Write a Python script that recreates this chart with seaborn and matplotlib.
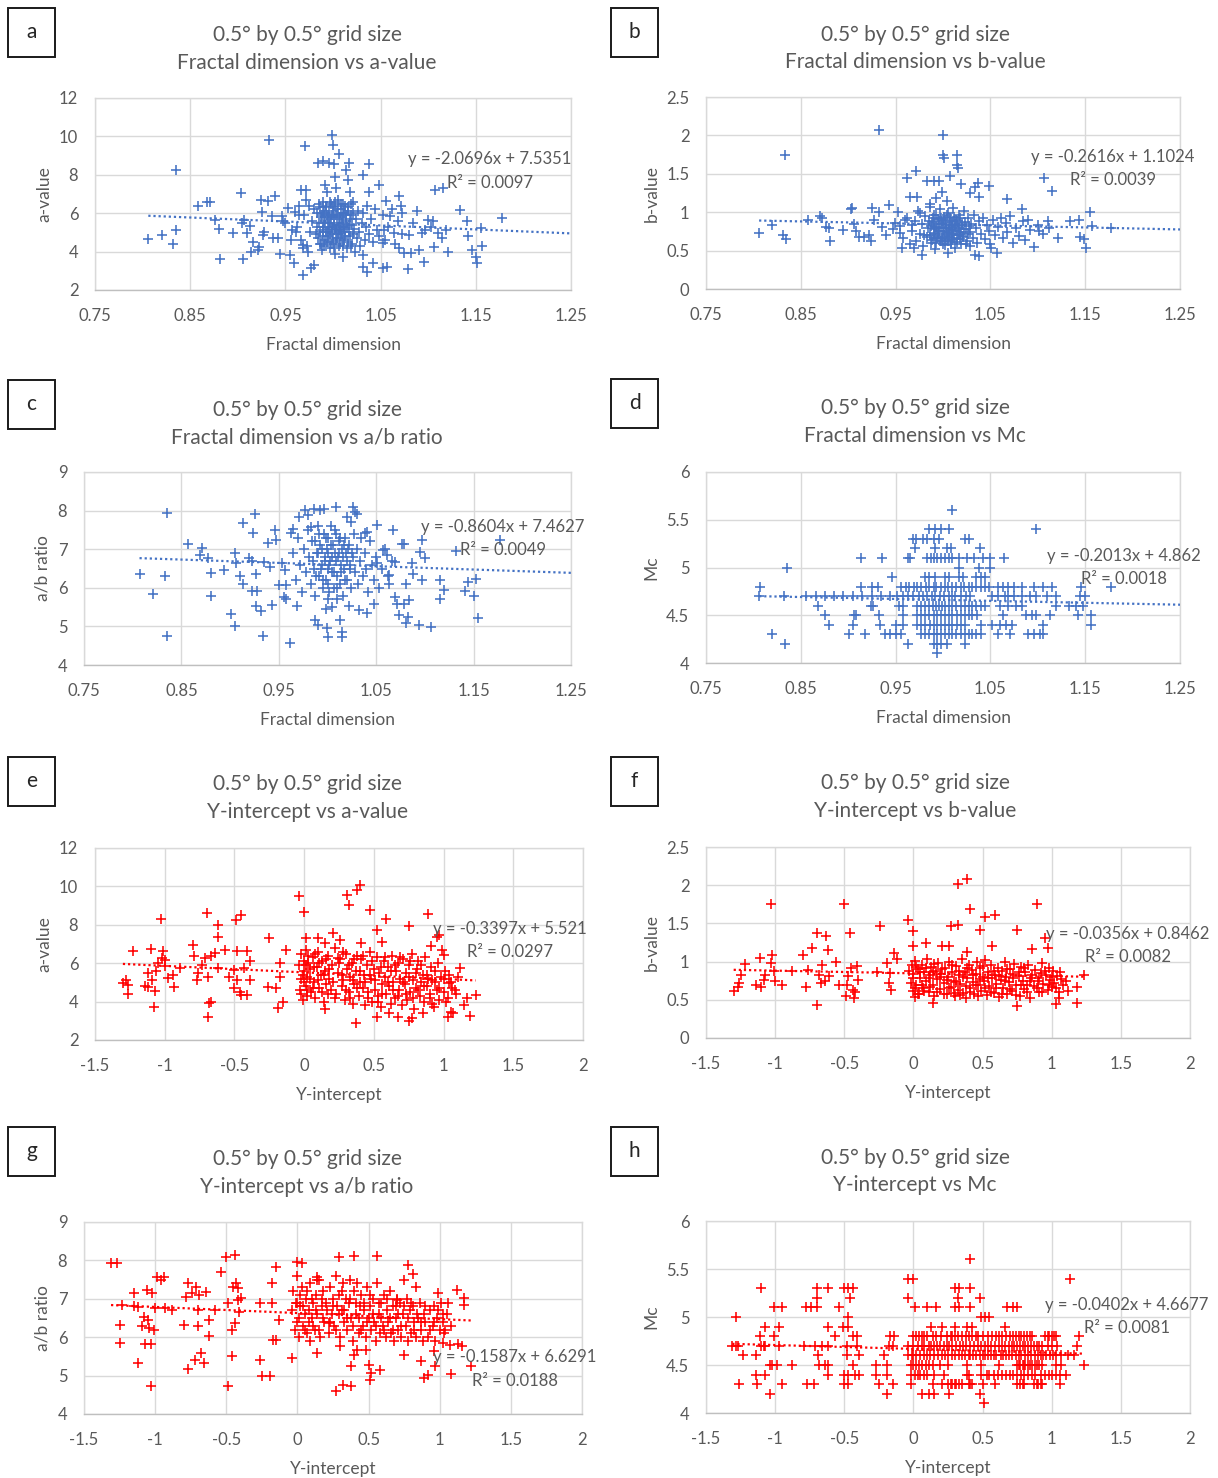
import matplotlib
matplotlib.use("Agg")
import matplotlib.pyplot as plt
from matplotlib.patches import Rectangle
from matplotlib.ticker import FixedLocator, FuncFormatter
import seaborn as sns
import pandas as pd

# ---------------------------------------------------------------------------
# Grid-cell statistics (0.5 deg x 0.5 deg cells), one list of points per panel
# ---------------------------------------------------------------------------

# (fractal dimension, a-value)
fd_vs_a = [
    (0.806, 4.64), (0.820, 4.85), (0.832, 4.38), (0.835, 5.13), (0.835, 8.26), (0.858, 6.40),
    (0.868, 6.57), (0.871, 6.57), (0.876, 5.65), (0.880, 5.20), (0.881, 3.63), (0.895, 4.99),
    (0.903, 7.04), (0.904, 5.48), (0.905, 3.63), (0.907, 5.65), (0.910, 4.96), (0.913, 5.34),
    (0.914, 3.98), (0.916, 4.52), (0.921, 4.08), (0.922, 4.26), (0.924, 6.70), (0.925, 6.05),
    (0.926, 4.87), (0.927, 5.04), (0.932, 6.66), (0.933, 9.83), (0.936, 5.88), (0.937, 4.70),
    (0.939, 6.90), (0.942, 4.70), (0.944, 3.88), (0.946, 5.83), (0.948, 5.57), (0.950, 5.48),
    (0.953, 6.26), (0.955, 3.83), (0.956, 4.61), (0.957, 5.13), (0.959, 3.39), (0.960, 6.05),
    (0.961, 5.04), (0.964, 6.35), (0.964, 5.91), (0.966, 7.22), (0.968, 4.35), (0.968, 4.17),
    (0.969, 2.78), (0.971, 9.48), (0.972, 6.70), (0.972, 7.22), (0.974, 4.00), (0.977, 3.13),
    (0.980, 3.30), (0.984, 8.64), (0.990, 8.70), (0.992, 7.48), (0.994, 7.13), (0.996, 8.61),
    (0.999, 10.09), (1.000, 9.53), (1.001, 8.57), (1.002, 7.91), (1.003, 7.30), (1.006, 9.10),
    (1.014, 8.26), (1.017, 8.61), (1.016, 7.74), (1.018, 7.13), (1.032, 8.00), (1.038, 8.57),
    (1.038, 7.13), (1.048, 7.48), (1.032, 3.22), (1.036, 2.96), (1.042, 3.39), (1.052, 3.13),
    (1.057, 3.18), (1.052, 4.43), (1.054, 5.13), (1.056, 6.61), (1.060, 5.83), (1.064, 4.96),
    (1.069, 6.87), (1.071, 6.35), (1.073, 6.00), (1.069, 4.17), (1.075, 3.91), (1.079, 3.08),
    (1.080, 4.87), (1.082, 3.91), (1.084, 5.48), (1.088, 6.14), (1.090, 4.08), (1.094, 4.96),
    (1.096, 3.48), (1.097, 5.13), (1.100, 5.65), (1.103, 5.30), (1.105, 5.57), (1.106, 4.26),
    (1.107, 7.22), (1.110, 4.96), (1.115, 4.70), (1.116, 7.30), (1.119, 5.13), (1.121, 4.00),
    (1.133, 6.17), (1.141, 5.57), (1.142, 4.82), (1.146, 4.08), (1.150, 3.74), (1.151, 3.43),
    (1.155, 5.22), (1.156, 4.30), (1.177, 5.74),
    (0.962, 5.3), (0.966, 4.6), (0.970, 5.9), (0.973, 4.3), (0.975, 6.4), (0.976, 5.0),
    (0.978, 5.6), (0.980, 6.2), (0.982, 4.9), (0.983, 5.3), (0.985, 6.5), (0.986, 4.4),
    (0.987, 5.8), (0.988, 4.1), (0.989, 6.0), (0.990, 5.1), (0.991, 5.5), (0.992, 4.6),
    (0.993, 6.3), (0.994, 5.9), (0.995, 4.8), (0.996, 5.3), (0.997, 6.6), (0.997, 4.2),
    (0.998, 5.7), (0.999, 5.0), (1.000, 6.1), (1.000, 4.5), (1.001, 5.4), (1.002, 3.9),
    (1.002, 6.4), (1.003, 5.2), (1.004, 4.7), (1.004, 5.9), (1.005, 6.7), (1.006, 5.5),
    (1.006, 4.3), (1.007, 5.1), (1.008, 6.2), (1.008, 4.9), (1.009, 5.7), (1.010, 3.7),
    (1.010, 6.5), (1.011, 5.3), (1.012, 4.6), (1.012, 6.0), (1.013, 5.0), (1.014, 5.6),
    (1.015, 4.2), (1.016, 6.3), (1.017, 5.4), (1.018, 4.8), (1.019, 5.9), (1.020, 4.4),
    (1.021, 6.6), (1.022, 5.2), (1.023, 4.0), (1.024, 5.7), (1.025, 4.7), (1.026, 6.1),
    (1.027, 5.0), (1.028, 4.3), (1.030, 5.5), (1.031, 3.8), (1.032, 6.0), (1.034, 4.6),
    (1.035, 5.3), (1.036, 6.4), (1.038, 4.9), (1.040, 5.7), (1.042, 4.5), (1.044, 6.2),
    (1.046, 5.1), (1.048, 4.8), (1.052, 5.9), (1.055, 4.6), (1.058, 5.3), (1.062, 6.2),
    (1.065, 4.4), (1.068, 5.6), (1.072, 4.9),
    (0.983, 6.0), (0.984, 4.7), (0.985, 5.5), (0.986, 6.3), (0.986, 5.0), (0.987, 4.4),
    (0.988, 5.9), (0.989, 5.3), (0.989, 6.6), (0.990, 4.8), (0.991, 6.1), (0.991, 4.3),
    (0.992, 5.6), (0.993, 5.0), (0.993, 6.4), (0.994, 4.5), (0.995, 5.8), (0.995, 5.2),
    (0.996, 6.0), (0.997, 4.9), (0.997, 5.5), (0.998, 6.5), (0.998, 4.4), (0.999, 5.9),
    (0.999, 5.3), (1.000, 4.7), (1.000, 6.3), (1.001, 5.8), (1.001, 4.2), (1.002, 5.1),
    (1.002, 6.6), (1.003, 4.6), (1.003, 5.9), (1.004, 5.4), (1.005, 4.9), (1.005, 6.2),
    (1.006, 5.0), (1.007, 5.8), (1.007, 4.4), (1.008, 6.5), (1.008, 5.3), (1.009, 4.7),
    (1.010, 6.0), (1.010, 5.5), (1.011, 4.3), (1.012, 5.2), (1.013, 6.4), (1.013, 4.8),
    (1.014, 5.9), (1.015, 5.3), (1.016, 4.5), (1.016, 6.1), (1.017, 5.0), (1.018, 5.7),
    (1.019, 4.3), (1.019, 6.5), (1.020, 5.4), (1.021, 4.9), (1.021, 6.0),
]

# (fractal dimension, b-value)
fd_vs_b = [
    (0.806, 0.735), (0.820, 0.83), (0.831, 0.70), (0.834, 0.65), (0.833, 1.74), (0.858, 0.90),
    (0.870, 0.95), (0.872, 0.92), (0.877, 0.81), (0.880, 0.79), (0.881, 0.63), (0.895, 0.77),
    (0.903, 1.04), (0.904, 1.06), (0.906, 0.84), (0.908, 0.75), (0.911, 0.68), (0.917, 0.68),
    (0.922, 0.70), (0.924, 0.62), (0.925, 1.05), (0.927, 0.90), (0.932, 1.00), (0.933, 2.07),
    (0.936, 0.81), (0.940, 0.70), (0.943, 1.10), (0.947, 0.78), (0.949, 0.86), (0.953, 1.00),
    (0.955, 0.73), (0.957, 0.54), (0.960, 0.90), (0.962, 1.44), (0.965, 1.20), (0.967, 0.83),
    (0.969, 0.53), (0.971, 1.54), (0.973, 1.20), (0.976, 0.99), (0.978, 0.44), (0.980, 0.70),
    (0.983, 1.40), (0.986, 1.11), (0.990, 1.40), (0.993, 1.18), (0.996, 1.40), (0.999, 1.26),
    (1.000, 2.01), (1.000, 1.74), (1.001, 1.70), (1.004, 1.14), (1.005, 0.47), (1.007, 1.47),
    (1.015, 1.75), (1.015, 1.62), (1.016, 1.57), (1.019, 1.37), (1.029, 1.25), (1.034, 1.33),
    (1.037, 1.38), (1.038, 1.20), (1.048, 1.34), (1.034, 0.44), (1.038, 0.43), (1.051, 0.53),
    (1.057, 0.47), (1.068, 1.17), (1.083, 1.04), (1.090, 0.90), (1.096, 0.55), (1.101, 0.75),
    (1.107, 1.44), (1.111, 0.88), (1.115, 1.28), (1.121, 0.67), (1.134, 0.89), (1.143, 0.90),
    (1.145, 0.68), (1.149, 0.65), (1.151, 0.54), (1.155, 1.00), (1.157, 0.82), (1.177, 0.79),
    (0.955, 0.82), (0.958, 0.66), (0.962, 0.93), (0.965, 0.58), (0.967, 0.75), (0.970, 0.88),
    (0.972, 0.62), (0.974, 1.02), (0.976, 0.71), (0.978, 0.84), (0.979, 0.56), (0.981, 0.95),
    (0.983, 0.68), (0.984, 0.79), (0.986, 1.07), (0.987, 0.60), (0.988, 0.87), (0.990, 0.73),
    (0.991, 0.97), (0.992, 0.52), (0.993, 0.81), (0.994, 0.66), (0.995, 0.91), (0.996, 0.76),
    (0.997, 1.04), (0.998, 0.63), (0.999, 0.85), (1.000, 0.71), (1.001, 0.94), (1.002, 0.57),
    (1.003, 0.80), (1.004, 0.68), (1.005, 0.99), (1.006, 0.74), (1.007, 0.88), (1.008, 0.61),
    (1.009, 0.83), (1.010, 0.70), (1.011, 1.05), (1.012, 0.77), (1.013, 0.54), (1.014, 0.90),
    (1.015, 0.65), (1.016, 0.82), (1.017, 0.96), (1.018, 0.72), (1.019, 0.59), (1.020, 0.86),
    (1.021, 0.69), (1.022, 1.01), (1.024, 0.78), (1.025, 0.63), (1.026, 0.92), (1.028, 0.74),
    (1.029, 0.56), (1.030, 0.84), (1.032, 0.67), (1.033, 0.97), (1.035, 0.79), (1.036, 0.60),
    (1.038, 0.88), (1.040, 0.72), (1.042, 0.93), (1.044, 0.65), (1.046, 0.83), (1.048, 0.76),
    (1.050, 0.58), (1.053, 0.90), (1.055, 0.70), (1.058, 0.81), (1.061, 0.92), (1.063, 0.66),
    (1.066, 0.86), (1.068, 0.74), (1.071, 0.95), (1.074, 0.60), (1.077, 0.80), (1.080, 0.69),
    (1.084, 0.88), (1.087, 0.64), (1.092, 0.77), (1.100, 0.83), (1.105, 0.72), (1.112, 0.79),
    (0.985, 0.88), (0.986, 0.70), (0.987, 0.82), (0.988, 0.64), (0.989, 0.93), (0.990, 0.78),
    (0.990, 0.66), (0.991, 0.85), (0.992, 0.72), (0.993, 0.96), (0.993, 0.60), (0.994, 0.80),
    (0.995, 0.69), (0.996, 0.88), (0.996, 0.75), (0.997, 0.62), (0.998, 0.92), (0.998, 0.79),
    (0.999, 0.67), (1.000, 0.86), (1.000, 0.58), (1.001, 0.76), (1.002, 0.90), (1.002, 0.65),
    (1.003, 0.83), (1.004, 0.73), (1.004, 0.97), (1.005, 0.62), (1.006, 0.81), (1.006, 0.69),
    (1.007, 0.92), (1.008, 0.77), (1.008, 0.59), (1.009, 0.87), (1.010, 0.64), (1.010, 0.79),
    (1.011, 0.72), (1.012, 0.94), (1.012, 0.66), (1.013, 0.85), (1.014, 0.76), (1.015, 0.61),
    (1.015, 0.89), (1.016, 0.70), (1.017, 0.80), (1.018, 0.65), (1.018, 0.93), (1.019, 0.74),
    (1.020, 0.83), (1.021, 0.68), (1.022, 0.78), (1.023, 0.87), (1.024, 0.58), (1.026, 0.71),
    (1.027, 0.82),
]

# (fractal dimension, a/b ratio)
fd_vs_ab = [
    (0.807, 6.35), (0.821, 5.84), (0.833, 6.30), (0.835, 7.94), (0.835, 4.76), (0.857, 7.13),
    (0.871, 7.02), (0.869, 6.84), (0.877, 6.76), (0.880, 6.39), (0.880, 5.80), (0.894, 6.47),
    (0.901, 5.31), (0.905, 5.01), (0.905, 6.89), (0.906, 6.65), (0.910, 6.30), (0.913, 6.11),
    (0.913, 7.68), (0.919, 6.76), (0.922, 6.70), (0.922, 5.93), (0.924, 7.41), (0.926, 7.91),
    (0.927, 6.37), (0.928, 5.93), (0.927, 5.53), (0.932, 5.41), (0.934, 4.76), (0.935, 6.67),
    (0.939, 7.16), (0.941, 6.54), (0.943, 5.55), (0.946, 7.49), (0.947, 7.25), (0.950, 6.06),
    (0.953, 6.63), (0.956, 6.46), (0.957, 6.06), (0.955, 5.77), (0.957, 5.70), (0.962, 4.58),
    (0.963, 7.41), (0.965, 7.53), (0.969, 5.53), (0.971, 7.84), (0.977, 8.01), (0.980, 7.88),
    (0.983, 7.58), (0.986, 8.05), (0.987, 5.16), (0.990, 5.03), (0.992, 8.01), (0.996, 8.03),
    (0.999, 4.95), (1.000, 4.73), (0.998, 5.44), (1.001, 5.70), (1.005, 5.51), (1.009, 8.09),
    (1.010, 5.70), (1.013, 5.16), (1.015, 4.86), (1.015, 4.73), (1.020, 7.84), (1.022, 5.53),
    (1.024, 7.71), (1.026, 8.09), (1.028, 7.97), (1.030, 7.92), (1.032, 5.42), (1.041, 5.34),
    (1.039, 7.41), (1.041, 7.45), (1.051, 7.62), (1.048, 5.59), (1.051, 6.63), (1.057, 6.97),
    (1.061, 6.84), (1.063, 6.33), (1.063, 6.11), (1.067, 7.49), (1.069, 6.67), (1.069, 5.77),
    (1.071, 5.59), (1.073, 5.29), (1.076, 7.14), (1.079, 7.14), (1.079, 5.59), (1.081, 6.11),
    (1.081, 5.08), (1.083, 5.25), (1.084, 5.68), (1.087, 6.65), (1.088, 6.37), (1.094, 5.03),
    (1.095, 6.93), (1.097, 7.23), (1.097, 6.20), (1.100, 6.76), (1.106, 4.99), (1.115, 6.20),
    (1.116, 5.70), (1.120, 5.94), (1.132, 6.96), (1.141, 5.92), (1.144, 6.15), (1.150, 5.78),
    (1.152, 6.24), (1.155, 5.23), (1.177, 7.23),
    (0.965, 6.9), (0.968, 6.2), (0.970, 7.3), (0.972, 6.6), (0.974, 5.9), (0.976, 7.0),
    (0.978, 6.4), (0.980, 7.5), (0.981, 6.8), (0.983, 6.1), (0.984, 7.2), (0.986, 6.5),
    (0.987, 5.8), (0.989, 6.9), (0.990, 7.6), (0.991, 6.3), (0.992, 7.1), (0.994, 6.6),
    (0.995, 6.0), (0.996, 7.4), (0.997, 6.8), (0.998, 6.2), (0.999, 7.0), (1.000, 6.5),
    (1.001, 7.3), (1.002, 5.9), (1.003, 6.7), (1.004, 7.6), (1.005, 6.4), (1.006, 7.1),
    (1.007, 6.0), (1.008, 6.9), (1.009, 7.4), (1.010, 6.3), (1.011, 6.8), (1.012, 7.2),
    (1.013, 6.1), (1.014, 6.6), (1.015, 7.0), (1.016, 5.8), (1.017, 6.5), (1.018, 7.3),
    (1.019, 6.9), (1.020, 6.2), (1.022, 7.1), (1.023, 6.6), (1.024, 6.0), (1.026, 6.8),
    (1.027, 7.4), (1.028, 6.4), (1.030, 7.0), (1.031, 6.1), (1.033, 6.7), (1.034, 7.3),
    (1.036, 6.3), (1.038, 6.9), (1.040, 6.5), (1.042, 5.9), (1.044, 7.2), (1.046, 6.6),
    (1.048, 6.2), (1.050, 6.8), (1.053, 6.0), (1.056, 6.5), (1.059, 7.0), (1.062, 6.3),
    (1.066, 6.7),
    (0.985, 6.7), (0.987, 7.2), (0.988, 6.3), (0.990, 6.9), (0.991, 7.4), (0.993, 6.5),
    (0.994, 7.0), (0.995, 6.2), (0.997, 6.7), (0.998, 7.3), (1.000, 6.9), (1.001, 6.1),
    (1.002, 6.6), (1.004, 7.1), (1.005, 6.8), (1.007, 6.4), (1.008, 7.5), (1.009, 6.7),
    (1.010, 6.0), (1.012, 6.9), (1.013, 7.3), (1.014, 6.4), (1.016, 6.8), (1.017, 7.1),
    (1.018, 6.2), (1.020, 6.7), (1.021, 7.0), (1.023, 6.5), (1.025, 6.9),
]

# Mc is reported in 0.1 steps: fractal dimension of the cells at each Mc level
fd_mc_levels = [5.6, 5.4, 5.3, 5.2, 5.1, 5.0, 4.9, 4.8, 4.7, 4.6, 4.5, 4.4, 4.3, 4.2, 4.1]
fd_by_mc = [
    [1.010],
    [0.985, 0.992, 0.998, 1.006, 1.098],
    [0.968, 0.972, 0.979, 0.983, 0.990, 0.996, 1.023, 1.027],
    [0.970, 0.992, 1.004, 1.008, 1.039],
    [0.913, 0.936, 0.963, 0.965, 0.983, 0.987, 0.990, 0.994, 0.998, 1.002, 1.006, 1.010,
     1.017, 1.025, 1.033, 1.042, 1.050, 1.064],
    [0.835, 1.017, 1.038, 1.050],
    [0.946, 0.981, 0.985, 0.992, 1.002, 1.006, 1.017, 1.021, 1.035, 1.040, 1.044],
    [0.807, 0.914, 0.925, 0.931, 0.956, 0.961, 0.964, 0.969, 0.973, 0.977, 0.982, 0.985,
     0.990, 0.993, 0.998, 1.002, 1.005, 1.010, 1.014, 1.019, 1.022, 1.027, 1.031, 1.035,
     1.040, 1.044, 1.048, 1.058, 1.063, 1.069, 1.075, 1.083, 1.096, 1.106, 1.115, 1.146, 1.177],
    [0.806, 0.832, 0.856, 0.866, 0.875, 0.885, 0.895, 0.905, 0.915, 0.925, 0.935, 0.944,
     0.952, 0.958, 0.963, 0.968, 0.975, 0.979, 0.983, 0.988, 0.992, 0.997, 1.001, 1.006,
     1.009, 1.013, 1.019, 1.024, 1.029, 1.052, 1.058, 1.065, 1.069, 1.075, 1.083, 1.092,
     1.098, 1.110, 1.119, 1.144, 1.150],
    [0.868, 0.924, 0.926, 0.954, 0.958, 0.973, 0.977, 0.981, 0.985, 0.989, 0.993, 0.996,
     0.999, 1.002, 1.006, 1.010, 1.014, 1.019, 1.023, 1.027, 1.031, 1.035, 1.040, 1.044,
     1.060, 1.069, 1.077, 1.083, 1.119, 1.133, 1.140, 1.148],
    [0.876, 0.906, 0.908, 0.933, 0.958, 0.973, 0.977, 0.981, 0.985, 0.990, 0.994, 0.998,
     1.002, 1.006, 1.010, 1.015, 1.019, 1.023, 1.027, 1.031, 1.036, 1.063, 1.088, 1.094,
     1.098, 1.113, 1.142, 1.156],
    [0.880, 0.905, 0.934, 0.950, 0.958, 0.973, 0.977, 0.981, 0.986, 0.990, 0.994, 0.998,
     1.002, 1.006, 1.010, 1.015, 1.019, 1.023, 1.040, 1.052, 1.060, 1.066, 1.073, 1.106, 1.156],
    [0.820, 0.901, 0.918, 0.939, 0.944, 0.950, 0.956, 0.977, 0.981, 0.985, 0.990, 0.994,
     0.998, 1.002, 1.006, 1.010, 1.014, 1.019, 1.023, 1.027, 1.031, 1.035, 1.040, 1.058,
     1.071, 1.090, 1.096, 1.102, 1.106],
    [0.833, 0.963, 0.990, 0.994, 0.998, 1.004, 1.023],
    [0.994],
]

# (Y-intercept, a-value)
yint_vs_a = [
    (-1.30, 4.96), (-1.28, 5.13), (-1.26, 4.40), (-1.26, 4.87), (-1.23, 6.61), (-1.14, 4.82),
    (-1.12, 5.51), (-1.12, 4.75), (-1.10, 6.73), (-1.09, 5.13), (-1.08, 3.70), (-1.07, 4.57),
    (-1.06, 5.57), (-1.05, 6.00), (-1.03, 8.30), (-1.02, 6.26), (-1.01, 6.61), (-1.00, 6.17),
    (-1.00, 5.86), (-0.98, 5.22), (-0.94, 5.39), (-0.93, 4.78), (-0.89, 5.74), (-0.80, 6.96),
    (-0.79, 6.35), (-0.77, 5.13), (-0.76, 5.48), (-0.73, 5.91), (-0.71, 6.26), (-0.70, 8.61),
    (-0.69, 5.30), (-0.69, 3.18), (-0.68, 3.91), (-0.67, 4.00), (-0.67, 6.35), (-0.64, 6.52),
    (-0.62, 8.00), (-0.62, 7.36), (-0.62, 5.74), (-0.57, 6.70), (-0.54, 5.30), (-0.50, 5.65),
    (-0.50, 4.70), (-0.49, 8.26), (-0.48, 6.61), (-0.48, 5.13), (-0.46, 4.52), (-0.45, 8.52),
    (-0.45, 4.35), (-0.43, 5.74), (-0.41, 4.35), (-0.41, 6.61), (-0.39, 6.09), (-0.39, 5.13),
    (-0.26, 4.75), (-0.25, 7.30), (-0.20, 4.70), (-0.19, 3.69), (-0.17, 6.00), (-0.17, 5.30),
    (-0.15, 4.00), (-0.13, 6.70), (-0.04, 9.48), (0.00, 8.66), (0.01, 7.30), (0.10, 7.30),
    (0.15, 7.04), (0.15, 3.60), (0.21, 7.57), (0.24, 6.26), (0.26, 7.22), (0.31, 9.57),
    (0.32, 9.04), (0.37, 2.87), (0.38, 9.83), (0.40, 10.09), (0.41, 7.04), (0.47, 8.75),
    (0.52, 7.74), (0.52, 3.22), (0.56, 7.13), (0.59, 8.30), (0.61, 3.39), (0.67, 3.22),
    (0.75, 7.95), (0.75, 3.00), (0.77, 3.13), (0.85, 3.39), (0.89, 8.57), (0.91, 6.87),
    (0.93, 3.74), (0.95, 7.39), (0.97, 7.48), (0.99, 6.70), (1.00, 6.43), (1.03, 3.22),
    (1.04, 4.96), (1.05, 3.48), (1.07, 3.39), (1.08, 4.61), (1.12, 5.74), (1.15, 3.83),
    (1.17, 4.17), (1.19, 3.25), (1.23, 4.35),
    (-0.04, 5.9), (-0.03, 4.6), (-0.02, 6.5), (-0.02, 5.2), (-0.01, 4.1), (0.00, 6.1),
    (0.00, 5.6), (0.01, 4.8), (0.01, 6.7), (0.02, 5.3), (0.02, 4.3), (0.03, 6.0), (0.04, 5.7),
    (0.05, 4.5), (0.06, 6.3), (0.07, 5.0), (0.08, 4.2), (0.09, 5.8), (0.10, 6.6), (0.11, 4.7),
    (0.12, 5.4), (0.13, 6.1), (0.14, 4.0), (0.15, 5.6), (0.16, 4.9), (0.17, 6.4), (0.18, 5.2),
    (0.19, 4.6), (0.20, 5.9), (0.22, 6.8), (0.23, 4.4), (0.24, 5.5), (0.26, 6.2), (0.27, 4.8),
    (0.28, 5.1), (0.29, 4.1), (0.30, 6.5), (0.31, 5.7), (0.32, 4.5), (0.33, 5.3), (0.34, 6.0),
    (0.35, 3.9), (0.36, 4.9), (0.37, 5.6), (0.38, 6.4), (0.39, 4.3), (0.40, 5.0), (0.41, 6.2),
    (0.42, 4.7), (0.43, 5.4), (0.44, 3.8), (0.45, 5.9), (0.46, 4.5), (0.47, 6.6), (0.48, 5.2),
    (0.49, 4.0), (0.50, 5.7), (0.51, 4.6), (0.52, 6.3), (0.53, 4.3), (0.54, 5.5), (0.55, 3.7),
    (0.56, 4.9), (0.57, 6.1), (0.58, 5.3), (0.59, 4.4), (0.60, 5.8), (0.61, 4.8), (0.62, 3.9),
    (0.63, 6.4), (0.64, 5.0), (0.65, 4.2), (0.66, 5.6), (0.67, 6.0), (0.68, 4.6), (0.69, 5.2),
    (0.70, 3.8), (0.71, 6.2), (0.72, 4.9), (0.73, 5.5), (0.74, 4.1), (0.75, 5.9), (0.76, 4.5),
    (0.77, 6.5), (0.78, 5.1), (0.79, 3.6), (0.80, 4.7), (0.81, 5.7), (0.82, 6.1), (0.83, 4.3),
    (0.84, 5.0), (0.85, 5.4), (0.86, 4.0), (0.87, 6.3), (0.88, 4.8), (0.89, 5.2), (0.90, 4.4),
    (0.91, 5.8), (0.92, 3.9), (0.94, 5.0), (0.95, 4.6), (0.96, 6.0), (0.97, 4.1), (0.98, 5.3),
    (1.00, 4.5), (1.01, 5.6), (1.03, 4.2), (1.05, 5.0), (1.06, 4.7), (1.09, 4.4), (1.10, 5.3),
    (0.00, 5.0), (0.01, 5.9), (0.02, 4.6), (0.03, 6.4), (0.04, 5.2), (0.06, 4.7), (0.07, 5.8),
    (0.08, 6.5), (0.10, 5.1), (0.11, 6.0), (0.13, 4.5), (0.14, 5.4), (0.16, 6.2), (0.17, 4.4),
    (0.18, 5.7), (0.21, 5.0), (0.22, 4.2), (0.25, 6.0), (0.27, 5.4), (0.28, 6.6), (0.30, 4.6),
    (0.32, 5.9), (0.33, 4.2), (0.35, 5.1), (0.36, 6.2), (0.38, 4.7), (0.40, 5.6), (0.42, 6.4),
    (0.44, 5.0), (0.46, 4.2), (0.47, 5.4), (0.49, 6.1), (0.51, 5.1), (0.53, 4.0), (0.55, 5.8),
    (0.56, 4.4), (0.58, 6.3), (0.60, 5.0), (0.62, 5.6), (0.64, 4.6), (0.65, 5.9), (0.67, 4.3),
    (0.69, 6.3), (0.71, 5.0), (0.73, 4.4), (0.75, 5.3), (0.76, 6.1), (0.78, 4.2), (0.80, 5.5),
    (0.82, 4.6), (0.84, 5.9), (0.86, 4.8), (0.88, 5.4), (0.90, 4.2), (0.92, 5.1), (0.94, 5.6),
    (0.97, 4.7), (1.00, 5.2), (1.02, 4.0), (1.04, 5.4), (-0.02, 4.4), (-0.01, 5.4),
]

# (Y-intercept, b-value)
yint_vs_b = [
    (-1.30, 0.62), (-1.27, 0.67), (-1.26, 0.72), (-1.25, 0.83), (-1.22, 0.97), (-1.14, 0.70),
    (-1.11, 1.05), (-1.10, 0.67), (-1.08, 0.76), (-1.07, 0.83), (-1.03, 1.75), (-1.03, 0.98),
    (-1.02, 1.08), (-1.01, 0.88), (-1.00, 0.74), (-0.95, 0.70), (-0.88, 0.88), (-0.80, 1.09),
    (-0.78, 0.67), (-0.76, 0.89), (-0.73, 1.18), (-0.70, 1.37), (-0.70, 0.43), (-0.68, 0.83),
    (-0.67, 0.72), (-0.63, 1.33), (-0.62, 1.15), (-0.61, 0.81), (-0.56, 0.99), (-0.54, 0.70),
    (-0.50, 1.75), (-0.49, 0.55), (-0.47, 0.81), (-0.46, 1.38), (-0.44, 0.63), (-0.43, 0.52),
    (-0.41, 0.94), (-0.40, 0.76), (-0.26, 0.87), (-0.24, 1.46), (-0.19, 0.98), (-0.18, 0.72),
    (-0.16, 0.63), (-0.14, 1.11), (-0.12, 1.03), (-0.04, 1.54), (0.00, 1.40), (0.00, 1.20),
    (0.01, 0.54), (0.09, 1.25), (0.14, 0.46), (0.21, 1.20), (0.26, 1.20), (0.27, 1.46),
    (0.32, 1.48), (0.32, 2.01), (0.39, 2.08), (0.39, 1.13), (0.41, 1.69), (0.48, 1.41),
    (0.52, 1.58), (0.57, 1.20), (0.59, 1.61), (0.75, 1.41), (0.75, 0.42), (0.86, 1.16),
    (0.89, 1.75), (0.95, 1.31), (0.97, 1.18), (1.03, 0.45), (1.05, 0.52), (1.18, 0.67),
    (1.18, 0.46), (1.23, 0.83),
    (-0.66, 0.95), (-0.64, 0.75), (-0.48, 0.70), (-0.45, 0.92), (-0.42, 0.60), (-0.17, 0.85),
    (-0.03, 0.88), (-0.02, 0.72), (-0.01, 0.95), (0.00, 0.62), (0.00, 0.84), (0.01, 1.01),
    (0.02, 0.69), (0.03, 0.90), (0.04, 0.57), (0.05, 0.79), (0.06, 0.96), (0.07, 0.66),
    (0.08, 0.86), (0.09, 0.74), (0.10, 1.03), (0.11, 0.60), (0.12, 0.82), (0.13, 0.93),
    (0.14, 0.70), (0.15, 0.55), (0.16, 0.88), (0.17, 0.77), (0.18, 0.98), (0.19, 0.64),
    (0.20, 0.84), (0.22, 0.72), (0.23, 0.92), (0.24, 0.58), (0.25, 0.80), (0.26, 1.00),
    (0.27, 0.67), (0.28, 0.87), (0.29, 0.75), (0.30, 0.55), (0.31, 0.94), (0.32, 0.63),
    (0.33, 0.82), (0.34, 0.71), (0.35, 1.04), (0.36, 0.59), (0.37, 0.86), (0.38, 0.52),
    (0.39, 0.78), (0.40, 0.96), (0.41, 0.66), (0.42, 0.89), (0.43, 0.73), (0.44, 0.57),
    (0.45, 0.84), (0.46, 1.00), (0.47, 0.69), (0.48, 0.91), (0.49, 0.61), (0.50, 0.80),
    (0.51, 0.74), (0.52, 1.02), (0.53, 0.56), (0.54, 0.87), (0.55, 0.68), (0.56, 0.95),
    (0.57, 0.78), (0.58, 0.59), (0.59, 0.83), (0.60, 0.71), (0.61, 0.92), (0.62, 0.54),
    (0.63, 0.76), (0.64, 0.88), (0.65, 0.65), (0.66, 0.99), (0.67, 0.80), (0.68, 0.57),
    (0.69, 0.73), (0.70, 0.90), (0.71, 0.62), (0.72, 0.84), (0.73, 0.97), (0.74, 0.69),
    (0.76, 0.81), (0.77, 0.55), (0.78, 0.93), (0.79, 0.75), (0.80, 0.64), (0.81, 0.87),
    (0.82, 0.70), (0.83, 0.96), (0.84, 0.53), (0.85, 0.79), (0.87, 0.68), (0.88, 0.89),
    (0.90, 0.74), (0.91, 0.60), (0.92, 0.85), (0.93, 0.98), (0.94, 0.71), (0.96, 0.82),
    (0.97, 0.63), (0.98, 0.92), (0.99, 0.76), (1.00, 0.67), (1.01, 0.88), (1.02, 0.72),
    (1.04, 0.81), (1.05, 0.60), (1.07, 0.77), (1.08, 0.69), (1.10, 0.74), (1.12, 0.62),
    (0.00, 0.78), (0.01, 0.66), (0.02, 0.93), (0.03, 0.58), (0.05, 0.87), (0.06, 0.70),
    (0.08, 0.62), (0.09, 0.92), (0.11, 0.78), (0.12, 0.67), (0.14, 0.86), (0.15, 0.97),
    (0.17, 0.60), (0.19, 0.80), (0.21, 0.90), (0.22, 0.57), (0.24, 0.76), (0.26, 0.66),
    (0.28, 0.95), (0.29, 0.59), (0.31, 0.73), (0.33, 0.88), (0.34, 0.56), (0.36, 0.80),
    (0.38, 0.68), (0.39, 0.92), (0.41, 0.60), (0.43, 0.83), (0.45, 0.70), (0.47, 0.55),
    (0.48, 0.77), (0.50, 0.94), (0.52, 0.65), (0.54, 0.79), (0.56, 0.60), (0.58, 0.88),
    (0.60, 0.66), (0.62, 0.81), (0.64, 0.58), (0.66, 0.75), (0.68, 0.90), (0.70, 0.64),
    (0.72, 0.78), (0.74, 0.56), (0.76, 0.86), (0.78, 0.70), (0.80, 0.92), (0.82, 0.60),
    (0.84, 0.75), (0.86, 0.83), (0.89, 0.66), (0.91, 0.79), (0.93, 0.60), (0.95, 0.88),
    (0.98, 0.70), (1.00, 0.80), (1.03, 0.66), (1.06, 0.86),
]

# (Y-intercept, a/b ratio)
yint_vs_ab = [
    (-1.31, 7.94), (-1.27, 7.94), (-1.25, 6.32), (-1.25, 5.84), (-1.23, 6.84), (-1.15, 7.14),
    (-1.15, 6.81), (-1.12, 5.32), (-1.12, 6.79), (-1.09, 6.28), (-1.08, 6.53), (-1.07, 5.83),
    (-1.06, 7.24), (-1.05, 6.45), (-1.04, 6.23), (-1.03, 4.74), (-1.03, 5.83), (-1.02, 7.14),
    (-1.01, 6.19), (-1.00, 6.75), (-0.99, 7.57), (-0.96, 7.49), (-0.94, 7.56), (-0.93, 6.75),
    (-0.88, 6.71), (-0.80, 6.32), (-0.78, 7.05), (-0.77, 7.42), (-0.77, 5.17), (-0.74, 7.16),
    (-0.72, 5.41), (-0.71, 7.31), (-0.70, 6.71), (-0.70, 6.28), (-0.69, 7.10), (-0.68, 5.58),
    (-0.66, 5.34), (-0.64, 7.19), (-0.62, 6.02), (-0.62, 6.45), (-0.58, 6.71), (-0.54, 7.70),
    (-0.50, 8.09), (-0.49, 6.88), (-0.49, 4.74), (-0.46, 5.51), (-0.45, 7.31), (-0.46, 6.19),
    (-0.44, 8.15), (-0.44, 6.36), (-0.43, 7.40), (-0.42, 7.27), (-0.42, 6.97), (-0.41, 6.66),
    (-0.40, 7.01), (-0.26, 6.88), (-0.26, 5.41), (-0.25, 5.00), (-0.19, 4.99), (-0.18, 7.42),
    (-0.18, 6.88), (-0.17, 5.93), (-0.15, 7.83), (-0.15, 5.93), (-0.13, 6.45), (-0.04, 5.45),
    (0.00, 7.96), (0.03, 7.94), (0.09, 5.89), (0.14, 5.58), (0.14, 7.57), (0.14, 7.49),
    (0.22, 6.36), (0.27, 4.59), (0.29, 8.09), (0.30, 5.77), (0.32, 4.76), (0.38, 4.72),
    (0.38, 5.25), (0.40, 8.11), (0.40, 5.54), (0.42, 5.67), (0.48, 5.67), (0.50, 5.28),
    (0.51, 4.89), (0.52, 5.06), (0.56, 8.11), (0.58, 5.15), (0.70, 6.97), (0.75, 7.49),
    (0.75, 5.54), (0.78, 7.87), (0.81, 7.64), (0.83, 7.31), (0.87, 5.37), (0.89, 4.93),
    (0.92, 5.02), (0.96, 5.63), (0.97, 5.24), (0.99, 7.14), (1.02, 5.84), (1.07, 5.80),
    (1.08, 5.05), (1.12, 7.23), (1.13, 5.83), (1.16, 5.77), (1.17, 7.01), (1.17, 6.84),
    (1.22, 5.24),
    (-0.04, 6.7), (-0.03, 7.2), (-0.02, 6.2), (-0.01, 6.9), (0.00, 6.4), (0.00, 7.6),
    (0.01, 6.0), (0.02, 6.8), (0.03, 7.3), (0.04, 6.3), (0.05, 6.6), (0.06, 7.0), (0.07, 6.1),
    (0.08, 6.7), (0.09, 7.4), (0.10, 6.5), (0.11, 6.9), (0.12, 6.2), (0.13, 7.1), (0.14, 6.6),
    (0.15, 7.5), (0.16, 6.0), (0.17, 6.8), (0.18, 7.2), (0.19, 6.4), (0.20, 6.9), (0.22, 6.1),
    (0.23, 7.3), (0.24, 6.6), (0.25, 7.0), (0.26, 6.3), (0.27, 7.6), (0.28, 6.8), (0.29, 7.1),
    (0.30, 6.0), (0.31, 6.7), (0.32, 7.4), (0.33, 6.4), (0.34, 7.0), (0.35, 6.2), (0.36, 6.9),
    (0.37, 7.5), (0.38, 6.5), (0.39, 5.9), (0.40, 7.2), (0.41, 6.6), (0.42, 7.4), (0.43, 6.1),
    (0.44, 6.8), (0.45, 7.1), (0.46, 6.3), (0.47, 6.9), (0.48, 6.0), (0.49, 7.3), (0.50, 6.5),
    (0.51, 6.8), (0.52, 6.2), (0.53, 7.0), (0.54, 6.4), (0.55, 5.9), (0.56, 7.4), (0.57, 6.6),
    (0.58, 6.1), (0.59, 6.9), (0.60, 6.3), (0.61, 7.1), (0.62, 6.0), (0.63, 6.7), (0.64, 6.4),
    (0.65, 7.2), (0.66, 6.1), (0.67, 6.8), (0.68, 5.9), (0.69, 6.5), (0.70, 7.0), (0.71, 6.2),
    (0.72, 6.9), (0.73, 6.0), (0.74, 6.6), (0.76, 6.3), (0.77, 7.0), (0.78, 5.9), (0.79, 6.7),
    (0.80, 6.1), (0.81, 6.8), (0.82, 6.4), (0.83, 6.0), (0.85, 6.5), (0.86, 6.9), (0.87, 6.2),
    (0.88, 5.9), (0.89, 6.6), (0.90, 6.4), (0.92, 6.0), (0.93, 6.7), (0.95, 6.3), (0.96, 6.8),
    (0.97, 5.9), (0.98, 6.5), (1.00, 6.2), (1.01, 6.9), (1.02, 6.4), (1.03, 6.1), (1.05, 6.6),
    (1.06, 6.9), (1.08, 6.3),
    (0.00, 6.9), (0.01, 6.5), (0.02, 7.1), (0.04, 6.8), (0.05, 6.2), (0.07, 7.2), (0.08, 6.4),
    (0.10, 7.0), (0.11, 6.3), (0.13, 6.7), (0.15, 6.2), (0.17, 7.0), (0.18, 6.5), (0.21, 6.7),
    (0.23, 6.4), (0.25, 6.8), (0.27, 6.2), (0.29, 6.6), (0.31, 7.2), (0.33, 6.7), (0.35, 6.5),
    (0.37, 7.0), (0.39, 6.3), (0.41, 6.9), (0.43, 6.5), (0.45, 6.2), (0.47, 6.7), (0.49, 6.4),
    (0.51, 7.1), (0.53, 6.6), (0.55, 6.3), (0.57, 6.9), (0.59, 6.5), (0.61, 6.2), (0.63, 7.0),
    (0.65, 6.5), (0.67, 6.2), (0.69, 6.8), (0.71, 6.6), (0.73, 6.3), (0.75, 6.8), (0.78, 6.5),
    (0.80, 6.9), (0.82, 6.2), (0.84, 6.6), (0.87, 6.4), (0.90, 6.8), (0.93, 6.2), (0.96, 6.4),
    (0.99, 6.7), (1.02, 6.6), (1.04, 6.2),
]

# Y-intercept of the cells at each Mc level
yint_mc_levels = [5.6, 5.4, 5.3, 5.2, 5.1, 5.0, 4.9, 4.8, 4.7, 4.6, 4.5, 4.4, 4.3, 4.2, 4.1]
yint_by_mc = [
    [0.41],
    [-0.04, 0.00, 1.13],
    [-1.10, -0.70, -0.62, -0.50, -0.47, -0.44, 0.30, 0.33, 0.41],
    [-0.70, -0.46, -0.04, 0.32, 0.48],
    [-1.01, -0.95, -0.78, -0.74, -0.70, -0.54, 0.01, 0.10, 0.16, 0.30, 0.33, 0.41, 0.68, 0.72, 0.75],
    [-1.28, -0.47, 0.49, 0.52, 0.55],
    [-1.07, -0.97, -0.62, -0.51, -0.47, 0.13, 0.21, 0.30, 0.39, 0.42, 0.66],
    [-1.11, -1.01, -0.57, -0.44, -0.41, -0.17, -0.14, 0.00, 0.02, 0.04, 0.06, 0.08, 0.10,
     0.14, 0.16, 0.20, 0.24, 0.27, 0.28, 0.30, 0.32, 0.35, 0.38, 0.40, 0.42, 0.45, 0.47,
     0.50, 0.54, 0.57, 0.60, 0.62, 0.64, 0.67, 0.70, 0.72, 0.74, 0.76, 0.78, 0.80, 0.82,
     0.84, 0.86, 0.95, 0.97, 0.98, 1.00, 1.02, 1.03, 1.20],
    [-1.31, -1.28, -1.27, -1.10, -1.08, -1.07, -0.97, -0.79, -0.71, -0.66, -0.62, -0.48,
     -0.41, -0.18, -0.15, -0.04, 0.00, 0.03, 0.06, 0.08, 0.11, 0.13, 0.15, 0.17, 0.19, 0.22,
     0.24, 0.26, 0.28, 0.31, 0.34, 0.36, 0.38, 0.41, 0.44, 0.47, 0.49, 0.52, 0.54, 0.56,
     0.59, 0.62, 0.64, 0.66, 0.69, 0.71, 0.73, 0.75, 0.77, 0.79, 0.81, 0.83, 0.85, 0.87,
     0.89, 0.91, 0.93, 0.97, 1.00, 1.04, 1.18],
    [-1.23, -1.14, -0.69, -0.48, -0.39, -0.21, -0.04, -0.01, 0.00, 0.02, 0.05, 0.08, 0.10,
     0.12, 0.15, 0.18, 0.21, 0.23, 0.25, 0.28, 0.30, 0.33, 0.35, 0.37, 0.40, 0.41, 0.43,
     0.45, 0.48, 0.50, 0.52, 0.54, 0.56, 0.58, 0.60, 0.63, 0.65, 0.67, 0.69, 0.71, 0.74,
     0.76, 0.78, 0.81, 0.83, 0.85, 0.88, 0.90, 0.92, 0.94, 0.96, 0.99, 1.01, 1.03, 1.07,
     1.12, 1.16],
    [-1.04, -1.02, -0.99, -0.88, -0.68, -0.64, -0.62, -0.44, -0.27, -0.19, -0.02, 0.00,
     0.02, 0.04, 0.06, 0.09, 0.11, 0.14, 0.19, 0.25, 0.39, 0.49, 0.62, 0.75, 0.76, 0.77,
     0.79, 0.80, 0.81, 0.83, 0.84, 0.86, 0.88, 0.89, 0.91, 0.93, 1.03, 1.07, 1.23],
    [-1.14, -1.07, -0.62, -0.50, -0.47, -0.42, -0.39, -0.27, -0.19, -0.02, 0.01, 0.03,
     0.05, 0.08, 0.10, 0.15, 0.22, 0.39, 0.40, 0.49, 0.53, 0.55, 0.58, 0.61, 0.64, 0.67,
     0.70, 0.72, 0.75, 0.78, 0.80, 0.83, 0.86, 0.88, 0.92, 0.95, 0.98, 1.00, 1.03, 1.06, 1.10],
    [-1.26, -1.13, -0.95, -0.77, -0.72, -0.50, -0.47, -0.25, -0.15, -0.02, 0.14, 0.21,
     0.25, 0.27, 0.28, 0.30, 0.31, 0.33, 0.35, 0.40, 0.41, 0.42, 0.50, 0.59, 0.75, 0.77,
     0.79, 0.80, 0.87, 0.89, 0.90, 0.92, 0.93, 1.06],
    [-1.04, -0.19, 0.06, 0.11, 0.15, 0.26, 0.48],
    [0.51],
]

# Linear trend lines (slope, intercept, R squared) as printed on each panel
trend_slope = [-2.0696, -0.2616, -0.8604, -0.2013, -0.3397, -0.0356, -0.1587, -0.0402]
trend_intercept = [7.5351, 1.1024, 7.4627, 4.862, 5.521, 0.8462, 6.6291, 4.6677]
trend_r2 = ["0.0097", "0.0039", "0.0049", "0.0018", "0.0297", "0.0082", "0.0188", "0.0081"]

panel_tags = ["a", "b", "c", "d", "e", "f", "g", "h"]
panel_subtitles = [
    "Fractal dimension vs a-value", "Fractal dimension vs b-value",
    "Fractal dimension vs a/b ratio", "Fractal dimension vs Mc",
    "Y-intercept vs a-value", "Y-intercept vs b-value",
    "Y-intercept vs a/b ratio", "Y-intercept vs Mc",
]
y_labels = ["a-value", "b-value", "a/b ratio", "Mc", "a-value", "b-value", "a/b ratio", "Mc"]
fd_ticks = [0.75, 0.85, 0.95, 1.05, 1.15, 1.25]
yint_ticks = [-1.5, -1, -0.5, 0, 0.5, 1, 1.5, 2]
a_ticks = [2, 4, 6, 8, 10, 12]
b_ticks = [0, 0.5, 1, 1.5, 2, 2.5]
ab_ticks = [4, 5, 6, 7, 8, 9]
mc_ticks = [4, 4.5, 5, 5.5, 6]


def expand_levels(levels, xs_by_level):
    pts = []
    for lvl, xs in zip(levels, xs_by_level):
        pts.extend((x, lvl) for x in xs)
    return pts


panel_points = [
    fd_vs_a, fd_vs_b, fd_vs_ab, expand_levels(fd_mc_levels, fd_by_mc),
    yint_vs_a, yint_vs_b, yint_vs_ab, expand_levels(yint_mc_levels, yint_by_mc),
]

# ---------------------------------------------------------------------------
# Layout (pixel boxes on a 1218 x 1478 canvas)
# ---------------------------------------------------------------------------
W, H = 1218, 1478
BLUE = "#4472C4"
RED = "#FF0000"
GREY_TXT = "#595959"

# plot-area boxes: left, top, right, bottom
plot_boxes = [
    (95, 98, 571, 290), (706, 97, 1180, 289),
    (84, 472, 571, 665), (706, 472, 1180, 663),
    (95, 848, 583, 1040), (706, 847, 1190, 1038),
    (84, 1222, 582, 1414), (706, 1221, 1190, 1413),
]
tag_boxes = [
    (8, 8), (611, 8), (8, 380), (611, 379),
    (8, 757), (611, 757), (8, 1127), (611, 1127),
]
title_rows = [(35, 63), (35, 62), (410, 437), (408, 436),
              (784, 812), (783, 811), (1159, 1187), (1158, 1185)]
title_cx = [307, 915, 307, 915, 307, 915, 307, 915]
eq_pos = [(490, 159, 183), (1113, 157, 180), (503, 527, 550), (1124, 556, 579),
          (510, 929, 952), (1128, 934, 957), (515, 1357, 1381), (1127, 1305, 1328)]

sns.set_theme(style="white")
plt.rcParams["font.family"] = ["Lato", "DejaVu Sans"]

fig = plt.figure(figsize=(W / 100, H / 100), dpi=100)
fig.patch.set_facecolor("white")


def fx(px):
    return px / W


def fy(py):
    return 1 - py / H


def fmt(v, _pos=None):
    return f"{v:g}"


for i in range(8):
    l, t, r, b = plot_boxes[i]
    ax = fig.add_axes([fx(l), fy(b), (r - l) / W, (b - t) / H])
    fd_panel = i < 4
    color = BLUE if fd_panel else RED
    xt = fd_ticks if fd_panel else yint_ticks
    yt = [a_ticks, b_ticks, ab_ticks, mc_ticks][i % 4]

    df = pd.DataFrame(panel_points[i], columns=["x", "y"])
    sns.scatterplot(data=df, x="x", y="y", ax=ax, marker="+", s=50,
                    color=color, linewidth=1.15, legend=False, zorder=3)

    # dotted linear trend line
    x0 = df["x"].min()
    x1 = xt[-1] if fd_panel else df["x"].max()
    xs = [x0, x1]
    ys = [trend_slope[i] * v + trend_intercept[i] for v in xs]
    ax.plot(xs, ys, linestyle=(0, (1, 1.3)), color=color, lw=1.6, zorder=4)

    ax.set_xlim(xt[0], xt[-1])
    ax.set_ylim(yt[0], yt[-1])
    ax.xaxis.set_major_locator(FixedLocator(xt))
    ax.yaxis.set_major_locator(FixedLocator(yt))
    ax.xaxis.set_major_formatter(FuncFormatter(fmt))
    ax.yaxis.set_major_formatter(FuncFormatter(fmt))
    ax.grid(True, color="#d9d9d9", lw=1.0, zorder=0)
    ax.set_axisbelow(True)
    for side, sp in ax.spines.items():
        sp.set_visible(True)
        sp.set_color("#bfbfbf" if side == "bottom" else "#d9d9d9")
        sp.set_linewidth(1.0)
    ax.tick_params(axis="both", length=0, labelsize=12, labelcolor=GREY_TXT)
    ax.tick_params(axis="x", pad=13)
    ax.tick_params(axis="y", pad=12)
    ax.set_xlabel("Fractal dimension" if fd_panel else "Y-intercept",
                  fontsize=12.5, color=GREY_TXT, labelpad=9)
    ax.set_ylabel(y_labels[i], fontsize=12.5, color=GREY_TXT, labelpad=5)

    # two-line chart title
    y1, y2 = title_rows[i]
    fig.text(fx(title_cx[i]), fy(y1), "0.5\u00b0 by 0.5\u00b0 grid size", ha="center",
             va="center", fontsize=15, color=GREY_TXT)
    fig.text(fx(title_cx[i]), fy(y2), panel_subtitles[i], ha="center", va="center",
             fontsize=15, color=GREY_TXT)

    # trend-line equation and R squared
    ex, ey1, ey2 = eq_pos[i]
    fig.text(fx(ex), fy(ey1), f"y = {trend_slope[i]:g}x + {trend_intercept[i]:g}",
             ha="center", va="center", fontsize=12, color=GREY_TXT, zorder=5)
    fig.text(fx(ex), fy(ey2), f"R\u00b2 = {trend_r2[i]}", ha="center", va="center",
             fontsize=12, color=GREY_TXT, zorder=5)

    # boxed panel letter
    bx, by = tag_boxes[i]
    fig.add_artist(Rectangle((fx(bx), fy(by + 49)), 47 / W, 49 / H,
                             transform=fig.transFigure, facecolor="white",
                             edgecolor="#1a1a1a", lw=1.4))
    fig.text(fx(bx + 23.5), fy(by + 24), panel_tags[i], ha="center", va="center",
             fontsize=15, color="#262626")

fig.savefig("out.png", dpi=100, facecolor="white")
